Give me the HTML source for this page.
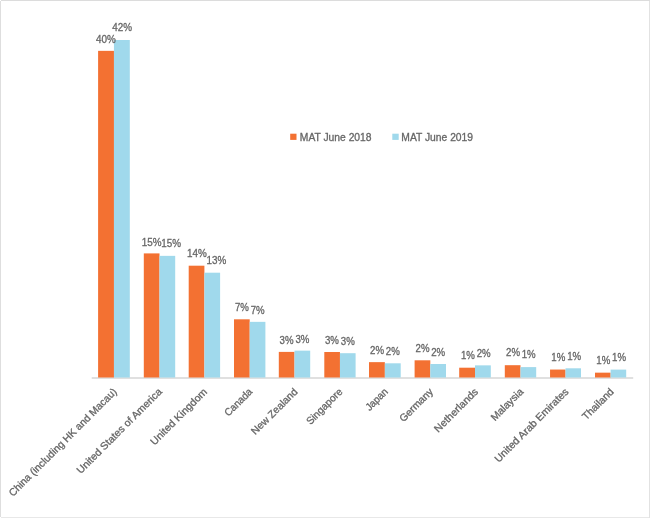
<!DOCTYPE html>
<html><head><meta charset="utf-8"><title>Chart</title>
<style>
html,body{margin:0;padding:0;background:#fff;}
body{width:650px;height:518px;overflow:hidden;}
svg{display:block;will-change:transform;}
text{font-family:"Liberation Sans",Arial,sans-serif;font-size:10.3px;fill:#666666;stroke:#666666;stroke-width:0.3px;}
</style></head><body>
<svg width="650" height="518" viewBox="0 0 650 518">
<rect x="0" y="0" width="650" height="518" fill="#fff"/>
<rect x="1" y="0" width="649" height="1" fill="#DCDCDC"/>
<rect x="0" y="1" width="1" height="516" fill="#DEDEDE"/>
<rect x="649" y="1" width="1" height="517" fill="#E2E2E2"/>
<rect x="1" y="517" width="648" height="1" fill="#E8E8E8"/>
<rect x="91.7" y="377.2" width="541.5" height="1.6" fill="#D9D9D9"/>
<rect x="98.10" y="50.85" width="15.85" height="326.65" fill="#F37132"/>
<rect x="113.95" y="40.0" width="15.85" height="337.50" fill="#A0D9EC"/>
<rect x="143.80" y="253.4" width="15.70" height="124.10" fill="#F37132"/>
<rect x="159.50" y="255.85" width="15.70" height="121.65" fill="#A0D9EC"/>
<rect x="188.70" y="265.7" width="15.70" height="111.80" fill="#F37132"/>
<rect x="204.40" y="272.7" width="15.70" height="104.80" fill="#A0D9EC"/>
<rect x="234.00" y="319.3" width="15.70" height="58.20" fill="#F37132"/>
<rect x="249.70" y="321.85" width="15.70" height="55.65" fill="#A0D9EC"/>
<rect x="278.80" y="351.9" width="15.70" height="25.60" fill="#F37132"/>
<rect x="294.50" y="350.65" width="15.70" height="26.85" fill="#A0D9EC"/>
<rect x="324.30" y="352" width="15.65" height="25.50" fill="#F37132"/>
<rect x="339.95" y="353.2" width="15.65" height="24.30" fill="#A0D9EC"/>
<rect x="369.00" y="362.15" width="15.85" height="15.35" fill="#F37132"/>
<rect x="384.85" y="363.3" width="15.85" height="14.20" fill="#A0D9EC"/>
<rect x="414.60" y="360.3" width="15.70" height="17.20" fill="#F37132"/>
<rect x="430.30" y="364" width="15.70" height="13.50" fill="#A0D9EC"/>
<rect x="459.20" y="367.7" width="15.80" height="9.80" fill="#F37132"/>
<rect x="475.00" y="365.35" width="15.80" height="12.15" fill="#A0D9EC"/>
<rect x="504.80" y="365.2" width="15.70" height="12.30" fill="#F37132"/>
<rect x="520.50" y="367.1" width="15.70" height="10.40" fill="#A0D9EC"/>
<rect x="550.05" y="369.55" width="15.48" height="7.95" fill="#F37132"/>
<rect x="565.52" y="368.3" width="15.48" height="9.20" fill="#A0D9EC"/>
<rect x="595.00" y="372.66" width="15.60" height="4.84" fill="#F37132"/>
<rect x="610.60" y="369.6" width="15.60" height="7.90" fill="#A0D9EC"/>
<text x="106.0" y="42.5" text-anchor="middle" textLength="19.79" lengthAdjust="spacingAndGlyphs">40%</text>
<text x="122.1" y="30.9" text-anchor="middle" textLength="19.79" lengthAdjust="spacingAndGlyphs">42%</text>
<text x="151.6" y="245.5" text-anchor="middle" textLength="19.79" lengthAdjust="spacingAndGlyphs">15%</text>
<text x="171.1" y="246.6" text-anchor="middle" textLength="19.79" lengthAdjust="spacingAndGlyphs">15%</text>
<text x="196.9" y="257.3" text-anchor="middle" textLength="19.79" lengthAdjust="spacingAndGlyphs">14%</text>
<text x="216.5" y="264.2" text-anchor="middle" textLength="19.79" lengthAdjust="spacingAndGlyphs">13%</text>
<text x="241.9" y="311.2" text-anchor="middle" textLength="13.99" lengthAdjust="spacingAndGlyphs">7%</text>
<text x="257.7" y="313.5" text-anchor="middle" textLength="13.99" lengthAdjust="spacingAndGlyphs">7%</text>
<text x="286.6" y="343.9" text-anchor="middle" textLength="13.99" lengthAdjust="spacingAndGlyphs">3%</text>
<text x="302.4" y="342.7" text-anchor="middle" textLength="13.99" lengthAdjust="spacingAndGlyphs">3%</text>
<text x="331.9" y="343.9" text-anchor="middle" textLength="13.99" lengthAdjust="spacingAndGlyphs">3%</text>
<text x="347.8" y="345" text-anchor="middle" textLength="13.99" lengthAdjust="spacingAndGlyphs">3%</text>
<text x="377.1" y="354" text-anchor="middle" textLength="13.99" lengthAdjust="spacingAndGlyphs">2%</text>
<text x="392.8" y="355.1" text-anchor="middle" textLength="13.99" lengthAdjust="spacingAndGlyphs">2%</text>
<text x="422.6" y="352.3" text-anchor="middle" textLength="13.99" lengthAdjust="spacingAndGlyphs">2%</text>
<text x="438.2" y="355.5" text-anchor="middle" textLength="13.99" lengthAdjust="spacingAndGlyphs">2%</text>
<text x="467.9" y="358.8" text-anchor="middle" textLength="13.99" lengthAdjust="spacingAndGlyphs">1%</text>
<text x="483.7" y="356.9" text-anchor="middle" textLength="13.99" lengthAdjust="spacingAndGlyphs">2%</text>
<text x="513.0" y="356.2" text-anchor="middle" textLength="13.99" lengthAdjust="spacingAndGlyphs">2%</text>
<text x="528.7" y="358.3" text-anchor="middle" textLength="13.99" lengthAdjust="spacingAndGlyphs">1%</text>
<text x="558.3" y="361.3" text-anchor="middle" textLength="13.99" lengthAdjust="spacingAndGlyphs">1%</text>
<text x="574.2" y="360.2" text-anchor="middle" textLength="13.99" lengthAdjust="spacingAndGlyphs">1%</text>
<text x="603.3" y="364.4" text-anchor="middle" textLength="13.99" lengthAdjust="spacingAndGlyphs">1%</text>
<text x="619.1" y="361" text-anchor="middle" textLength="13.99" lengthAdjust="spacingAndGlyphs">1%</text>
<text x="117.5" y="392.4" text-anchor="end" textLength="147.94" lengthAdjust="spacingAndGlyphs" transform="rotate(-45 117.5 392.4)">China (including HK and Macau)</text>
<text x="162.7" y="392.4" text-anchor="end" textLength="115.84" lengthAdjust="spacingAndGlyphs" transform="rotate(-45 162.7 392.4)">United States of America</text>
<text x="207.8" y="392.4" text-anchor="end" textLength="75.31" lengthAdjust="spacingAndGlyphs" transform="rotate(-45 207.8 392.4)">United Kingdom</text>
<text x="253.0" y="392.4" text-anchor="end" textLength="34.59" lengthAdjust="spacingAndGlyphs" transform="rotate(-45 253.0 392.4)">Canada</text>
<text x="298.2" y="392.4" text-anchor="end" textLength="60.55" lengthAdjust="spacingAndGlyphs" transform="rotate(-45 298.2 392.4)">New Zealand</text>
<text x="343.3" y="392.4" text-anchor="end" textLength="46.52" lengthAdjust="spacingAndGlyphs" transform="rotate(-45 343.3 392.4)">Singapore</text>
<text x="388.5" y="392.4" text-anchor="end" textLength="26.65" lengthAdjust="spacingAndGlyphs" transform="rotate(-45 388.5 392.4)">Japan</text>
<text x="433.7" y="392.4" text-anchor="end" textLength="42.74" lengthAdjust="spacingAndGlyphs" transform="rotate(-45 433.7 392.4)">Germany</text>
<text x="478.8" y="392.4" text-anchor="end" textLength="57.25" lengthAdjust="spacingAndGlyphs" transform="rotate(-45 478.8 392.4)">Netherlands</text>
<text x="524.0" y="392.4" text-anchor="end" textLength="41.16" lengthAdjust="spacingAndGlyphs" transform="rotate(-45 524.0 392.4)">Malaysia</text>
<text x="569.2" y="392.4" text-anchor="end" textLength="99.68" lengthAdjust="spacingAndGlyphs" transform="rotate(-45 569.2 392.4)">United Arab Emirates</text>
<text x="614.4" y="392.4" text-anchor="end" textLength="39.85" lengthAdjust="spacingAndGlyphs" transform="rotate(-45 614.4 392.4)">Thailand</text>
<rect x="290.2" y="133.7" width="6.3" height="6.2" fill="#F37132"/>
<text x="299.8" y="140.6" textLength="71.76" lengthAdjust="spacingAndGlyphs">MAT June 2018</text>
<rect x="392.3" y="133.7" width="6.4" height="6.2" fill="#A0D9EC"/>
<text x="401.3" y="140.6" textLength="71.76" lengthAdjust="spacingAndGlyphs">MAT June 2019</text>
</svg>
</body></html>
